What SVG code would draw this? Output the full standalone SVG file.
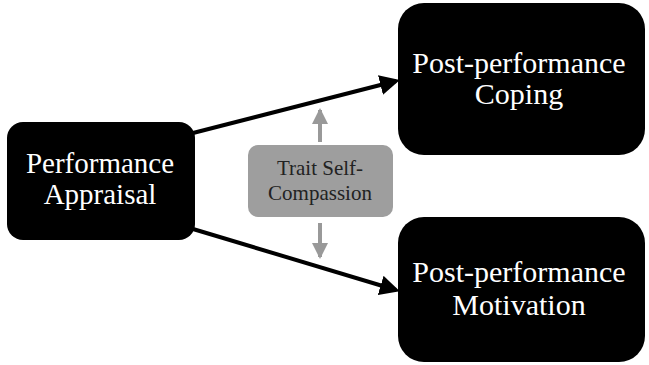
<svg xmlns="http://www.w3.org/2000/svg" width="649" height="365" viewBox="0 0 649 365">
<style>
.box{fill:#000}
.wt{fill:#fff;font-family:"Liberation Serif","Times New Roman",serif;text-anchor:middle}
.gt{fill:#222;font-family:"Liberation Serif","Times New Roman",serif;text-anchor:middle;font-size:21px}
.blk{stroke:#000;stroke-width:4;fill:none}
.gry{stroke:#999;stroke-width:4;fill:none}
</style>
<defs>
<marker id="ab" markerWidth="5" markerHeight="5" refX="4" refY="2.5" orient="auto" markerUnits="strokeWidth">
<path d="M0,0 L5,2.5 L0,5 z" fill="#000"/>
</marker>
<marker id="ag" markerWidth="4" markerHeight="4" refX="3.5" refY="2" orient="auto" markerUnits="strokeWidth">
<path d="M0,0 L4,2 L0,4 z" fill="#999"/>
</marker>
</defs>
<rect width="649" height="365" fill="#fff"/>
<g id="connectors">
<line class="blk" x1="193" y1="133" x2="396" y2="81" marker-end="url(#ab)"/>
<line class="blk" x1="193" y1="229" x2="396" y2="290" marker-end="url(#ab)"/>
<line class="gry" x1="320" y1="142" x2="320" y2="110" marker-end="url(#ag)"/>
<line class="gry" x1="320" y1="223" x2="320" y2="257" marker-end="url(#ag)"/>
</g>
<g id="performance-appraisal">
<rect class="box" x="7" y="122" width="188" height="118" rx="16"/>
<text class="wt" x="100" y="173" font-size="29">Performance</text>
<text class="wt" x="100" y="204" font-size="29">Appraisal</text>
</g>
<g id="coping">
<rect class="box" x="398" y="3" width="247" height="152" rx="26"/>
<text class="wt" x="519" y="73" font-size="30">Post-performance</text>
<text class="wt" x="519" y="104" font-size="30">Coping</text>
</g>
<g id="motivation">
<rect class="box" x="398" y="217" width="247" height="145" rx="26"/>
<text class="wt" x="519" y="282" font-size="30">Post-performance</text>
<text class="wt" x="519" y="315" font-size="30">Motivation</text>
</g>
<g id="self-compassion">
<rect x="248" y="145" width="145" height="72" rx="10" fill="#9e9e9e"/>
<text class="gt" x="320" y="175">Trait Self-</text>
<text class="gt" x="320" y="200">Compassion</text>
</g>
</svg>
